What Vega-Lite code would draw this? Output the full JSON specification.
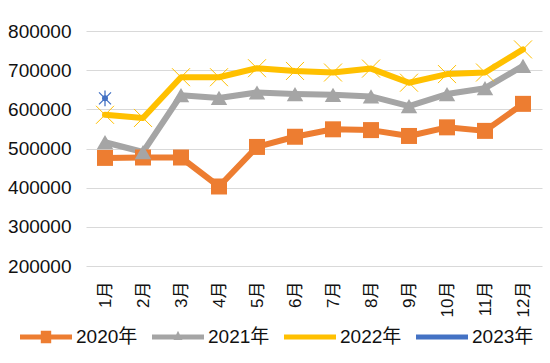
{
  "$schema": "https://vega.github.io/schema/vega-lite/v6.json",
  "autosize": {"type": "none"},
  "width": 456,
  "height": 235,
  "padding": {"left": 86, "top": 31, "right": 8, "bottom": 97},
  "background": "white",
  "config": {
    "view": {"stroke": null},
    "font": "Liberation Sans, Noto Sans CJK SC, sans-serif",
    "axis": {"labelColor": "#111", "labelFont": "Liberation Sans, Noto Sans CJK SC, sans-serif"},
    "legend": {"labelFont": "Liberation Sans, Noto Sans CJK SC, sans-serif"}
  },
  "data": {
    "values": [
      {"month": "1月", "year": "2020年", "value": 476000},
      {"month": "2月", "year": "2020年", "value": 477000},
      {"month": "3月", "year": "2020年", "value": 477000},
      {"month": "4月", "year": "2020年", "value": 403000},
      {"month": "5月", "year": "2020年", "value": 504000},
      {"month": "6月", "year": "2020年", "value": 530000},
      {"month": "7月", "year": "2020年", "value": 549000},
      {"month": "8月", "year": "2020年", "value": 547000},
      {"month": "9月", "year": "2020年", "value": 532000},
      {"month": "10月", "year": "2020年", "value": 554000},
      {"month": "11月", "year": "2020年", "value": 545000},
      {"month": "12月", "year": "2020年", "value": 614000},
      {"month": "1月", "year": "2021年", "value": 516000},
      {"month": "2月", "year": "2021年", "value": 491000},
      {"month": "3月", "year": "2021年", "value": 636000},
      {"month": "4月", "year": "2021年", "value": 629000},
      {"month": "5月", "year": "2021年", "value": 643000},
      {"month": "6月", "year": "2021年", "value": 639000},
      {"month": "7月", "year": "2021年", "value": 637000},
      {"month": "8月", "year": "2021年", "value": 633000},
      {"month": "9月", "year": "2021年", "value": 608000},
      {"month": "10月", "year": "2021年", "value": 639000},
      {"month": "11月", "year": "2021年", "value": 654000},
      {"month": "12月", "year": "2021年", "value": 711000},
      {"month": "1月", "year": "2022年", "value": 586000},
      {"month": "2月", "year": "2022年", "value": 578000},
      {"month": "3月", "year": "2022年", "value": 682000},
      {"month": "4月", "year": "2022年", "value": 682000},
      {"month": "5月", "year": "2022年", "value": 705000},
      {"month": "6月", "year": "2022年", "value": 698000},
      {"month": "7月", "year": "2022年", "value": 694000},
      {"month": "8月", "year": "2022年", "value": 704000},
      {"month": "9月", "year": "2022年", "value": 668000},
      {"month": "10月", "year": "2022年", "value": 690000},
      {"month": "11月", "year": "2022年", "value": 694000},
      {"month": "12月", "year": "2022年", "value": 753000},
      {"month": "1月", "year": "2023年", "value": 628000}
    ]
  },
  "encoding": {
    "x": {
      "field": "month",
      "type": "ordinal",
      "sort": ["1月", "2月", "3月", "4月", "5月", "6月", "7月", "8月", "9月", "10月", "11月", "12月"],
      "scale": {"type": "point", "padding": 0.5},
      "axis": {
        "title": null,
        "labelAngle": -90,
        "labelFontSize": 17,
        "labelPadding": 15,
        "ticks": false,
        "domain": false,
        "grid": false
      }
    },
    "y": {
      "field": "value",
      "type": "quantitative",
      "scale": {"domain": [200000, 800000], "nice": false, "zero": false},
      "axis": {
        "title": null,
        "values": [200000, 300000, 400000, 500000, 600000, 700000, 800000],
        "format": "d",
        "labelFontSize": 19,
        "labelPadding": 15,
        "ticks": false,
        "domain": false,
        "grid": true,
        "gridColor": "#D9D9D9",
        "gridWidth": 1.2
      }
    }
  },
  "layer": [
    {
      "mark": {"type": "point", "filled": true, "opacity": 0},
      "encoding": {
        "color": {
          "field": "year",
          "type": "nominal",
          "scale": {"domain": ["2020年", "2021年", "2022年", "2023年"], "range": ["#ED7D31", "#A5A5A5", "#FFC000", "#4472C4"]},
          "legend": {
            "title": null,
            "orient": "none",
            "direction": "horizontal",
            "legendX": -66,
            "legendY": 280,
            "symbolSize": 2704,
            "symbolOpacity": 1,
            "symbolStrokeWidth": 0,
            "labelFontSize": 19,
            "labelColor": "#111",
            "labelOffset": 4,
            "columnPadding": 14
          }
        },
        "shape": {
          "field": "year",
          "type": "nominal",
          "scale": {
            "domain": ["2020年", "2021年", "2022年", "2023年"],
            "range": [
              "M-1,-0.1H1V0.1H-1Z M-0.2,-0.24H0.2V0.24H-0.2Z",
              "M-1,-0.1H1V0.1H-1Z M0,-0.24L0.17,0.12H-0.17Z",
              "M-1,-0.1H1V0.1H-1Z",
              "M-1,-0.1H1V0.1H-1Z"
            ]
          },
          "legend": {
            "title": null,
            "orient": "none",
            "direction": "horizontal",
            "legendX": -66,
            "legendY": 280,
            "symbolSize": 2704,
            "symbolOpacity": 1,
            "symbolStrokeWidth": 0,
            "labelFontSize": 19,
            "labelColor": "#111",
            "labelOffset": 4,
            "columnPadding": 14
          }
        }
      }
    },
    {
      "mark": {"type": "line", "strokeWidth": 6, "strokeJoin": "round", "strokeCap": "round"},
      "encoding": {
        "stroke": {
          "field": "year",
          "type": "nominal",
          "scale": {"domain": ["2020年", "2021年", "2022年", "2023年"], "range": ["#ED7D31", "#A5A5A5", "#FFC000", "#4472C4"]},
          "legend": null
        }
      }
    },
    {
      "transform": [{"filter": "datum.year == '2020年'"}],
      "mark": {"type": "point", "shape": "square", "filled": true, "opacity": 1, "color": "#ED7D31", "size": 256},
      "encoding": {}
    },
    {
      "transform": [{"filter": "datum.year == '2021年'"}],
      "mark": {"type": "point", "shape": "triangle-up", "filled": true, "opacity": 1, "color": "#A5A5A5", "size": 270},
      "encoding": {}
    },
    {
      "transform": [{"filter": "datum.year == '2022年'"}],
      "mark": {"type": "point", "shape": "M-1,-1L1,1M-1,1L1,-1", "filled": false, "opacity": 1, "stroke": "#FFC000", "strokeWidth": 1, "size": 324},
      "encoding": {}
    },
    {
      "transform": [{"filter": "datum.year == '2023年'"}],
      "mark": {"type": "point", "shape": "M-1,-1L1,1M-1,1L1,-1M0,-1.3L0,1.3", "filled": false, "opacity": 1, "stroke": "#4472C4", "strokeWidth": 1.3, "size": 144},
      "encoding": {}
    }
  ]
}
